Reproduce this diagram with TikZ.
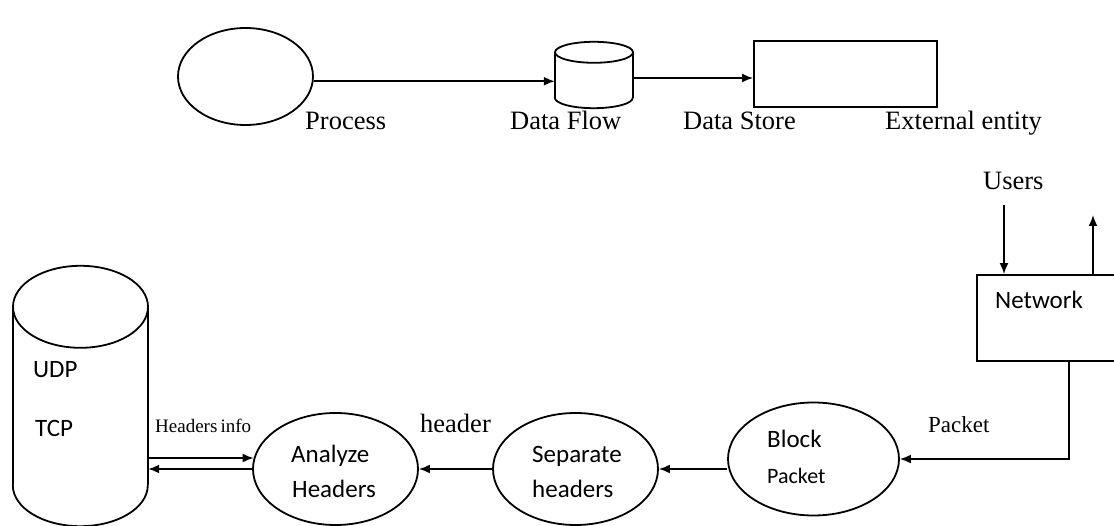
\documentclass[tikz,border=0pt]{standalone}
\usepackage{fontspec}
\setmainfont{Liberation Serif}
\newfontfamily\sansfnt{Carlito}
\usetikzlibrary{shapes.geometric,arrows.meta}
\tikzset{
  ln/.style={line width=1.8pt},
  arr/.style={ln,-{Latex[length=11pt,width=9pt]}},
  proc/.style={ellipse,draw,ln,inner sep=0pt},
  boxed/.style={rectangle,draw,ln,inner sep=0pt},
  lbl/.style={anchor=base west,inner sep=0pt,font=\fontsize{26.5}{30}\selectfont},
  slbl/.style={anchor=base west,inner sep=0pt,font=\sansfnt\fontsize{25}{30}\selectfont},
}
\begin{document}
\begin{tikzpicture}[x=1pt,y=-1pt]
\useasboundingbox (0,0) rectangle (1114,526);
\clip (0,0) rectangle (1114,526);
\fill[white] (0,0) rectangle (1114,526);

% ---------- legend ----------
\node[proc,minimum width=135pt,minimum height=97pt] (proc) at (245.5,76.5) {};
% small data-flow cylinder (body drawn around an empty node)
\node[inner sep=0pt,minimum width=78pt,minimum height=45pt] (df) at (594,75) {};
\draw[ln] (df.north west) -- (df.south west);
\draw[ln] (df.north east) -- (df.south east);
\draw[ln] (df.north) ellipse [x radius=39pt,y radius=10.5pt];
\draw[ln] (df.south west) arc [start angle=180,end angle=360,x radius=39pt,y radius=10.5pt];
\node[boxed,minimum width=183pt,minimum height=66pt] (ext) at (845.5,74) {};

\draw[arr] (proc.-4.5) -- (proc.-4.5 -| df.west);
\draw[arr] ([yshift=-3pt]df.east) -- ([yshift=-3pt]df.east -| ext.west);

\node[lbl] (lproc) at (305,130) {Process};
\node[lbl] (ldf) at (510,130) {Data Flow};
\node[lbl] (lds) at (683,130) {Data Store};
\node[lbl] (lext) at (885,130) {External entity};

% ---------- flow ----------
\node[boxed,minimum width=160pt,minimum height=86pt] (net) at (1057,318) {};
\node[slbl] (lnet) at (995,309) {Network};
\node[lbl] (users) at (983,190) {Users};
\coordinate (uin) at (1004,205);
\coordinate (uout) at (1093,215);
\draw[arr] (uin) -- (uin |- net.north);
\draw[arr] (uout |- net.north) -- (uout);

\node[proc,minimum width=171pt,minimum height=113pt] (bp) at (813.5,459) {};
\node[slbl] at (767,448) {Block};
\node[anchor=base west,inner sep=0pt,font=\sansfnt\fontsize{22}{26}\selectfont] at (767,483) {Packet};

\node[proc,minimum width=165pt,minimum height=112pt] (sh) at (575.5,469) {};
\node[slbl] at (532,462) {Separate};
\node[slbl] at (532,497) {headers};

\node[proc,minimum width=165pt,minimum height=112pt] (an) at (335.5,469) {};
\node[slbl] at (291,462) {Analyze};
\node[slbl] at (292,497) {Headers};

% protocol store cylinder
\node[inner sep=0pt,minimum width=135pt,minimum height=178pt] (db) at (80.5,396) {};
\draw[ln] (db.north west) -- (db.south west);
\draw[ln] (db.north east) -- (db.south east);
\draw[ln] (db.north) ellipse [x radius=67.5pt,y radius=41pt];
\draw[ln] (db.south west) arc [start angle=180,end angle=360,x radius=67.5pt,y radius=41pt];
\node[slbl] at (33,378) {UDP};
\node[slbl] at (35,437) {TCP};

\draw[arr] ([xshift=12pt]net.south) |- (bp.east);
\node[lbl,font=\fontsize{23}{26}\selectfont] at (928,432) {Packet};
\draw[arr] (bp.west |- sh.east) -- (sh.east);
\draw[arr] (sh.west) -- (an.east);
\node[lbl] at (420,432) {header};
\coordinate (hin) at ([xshift=1.5pt,yshift=11pt]an.west);
\draw[arr] (db.east |- hin) -- (hin);
\draw[arr] (an.west) -- (db.east |- an.west);
\node[lbl,font=\fontsize{19}{22}\selectfont] at (155,432) {Headers\,info};
\end{tikzpicture}
\end{document}
